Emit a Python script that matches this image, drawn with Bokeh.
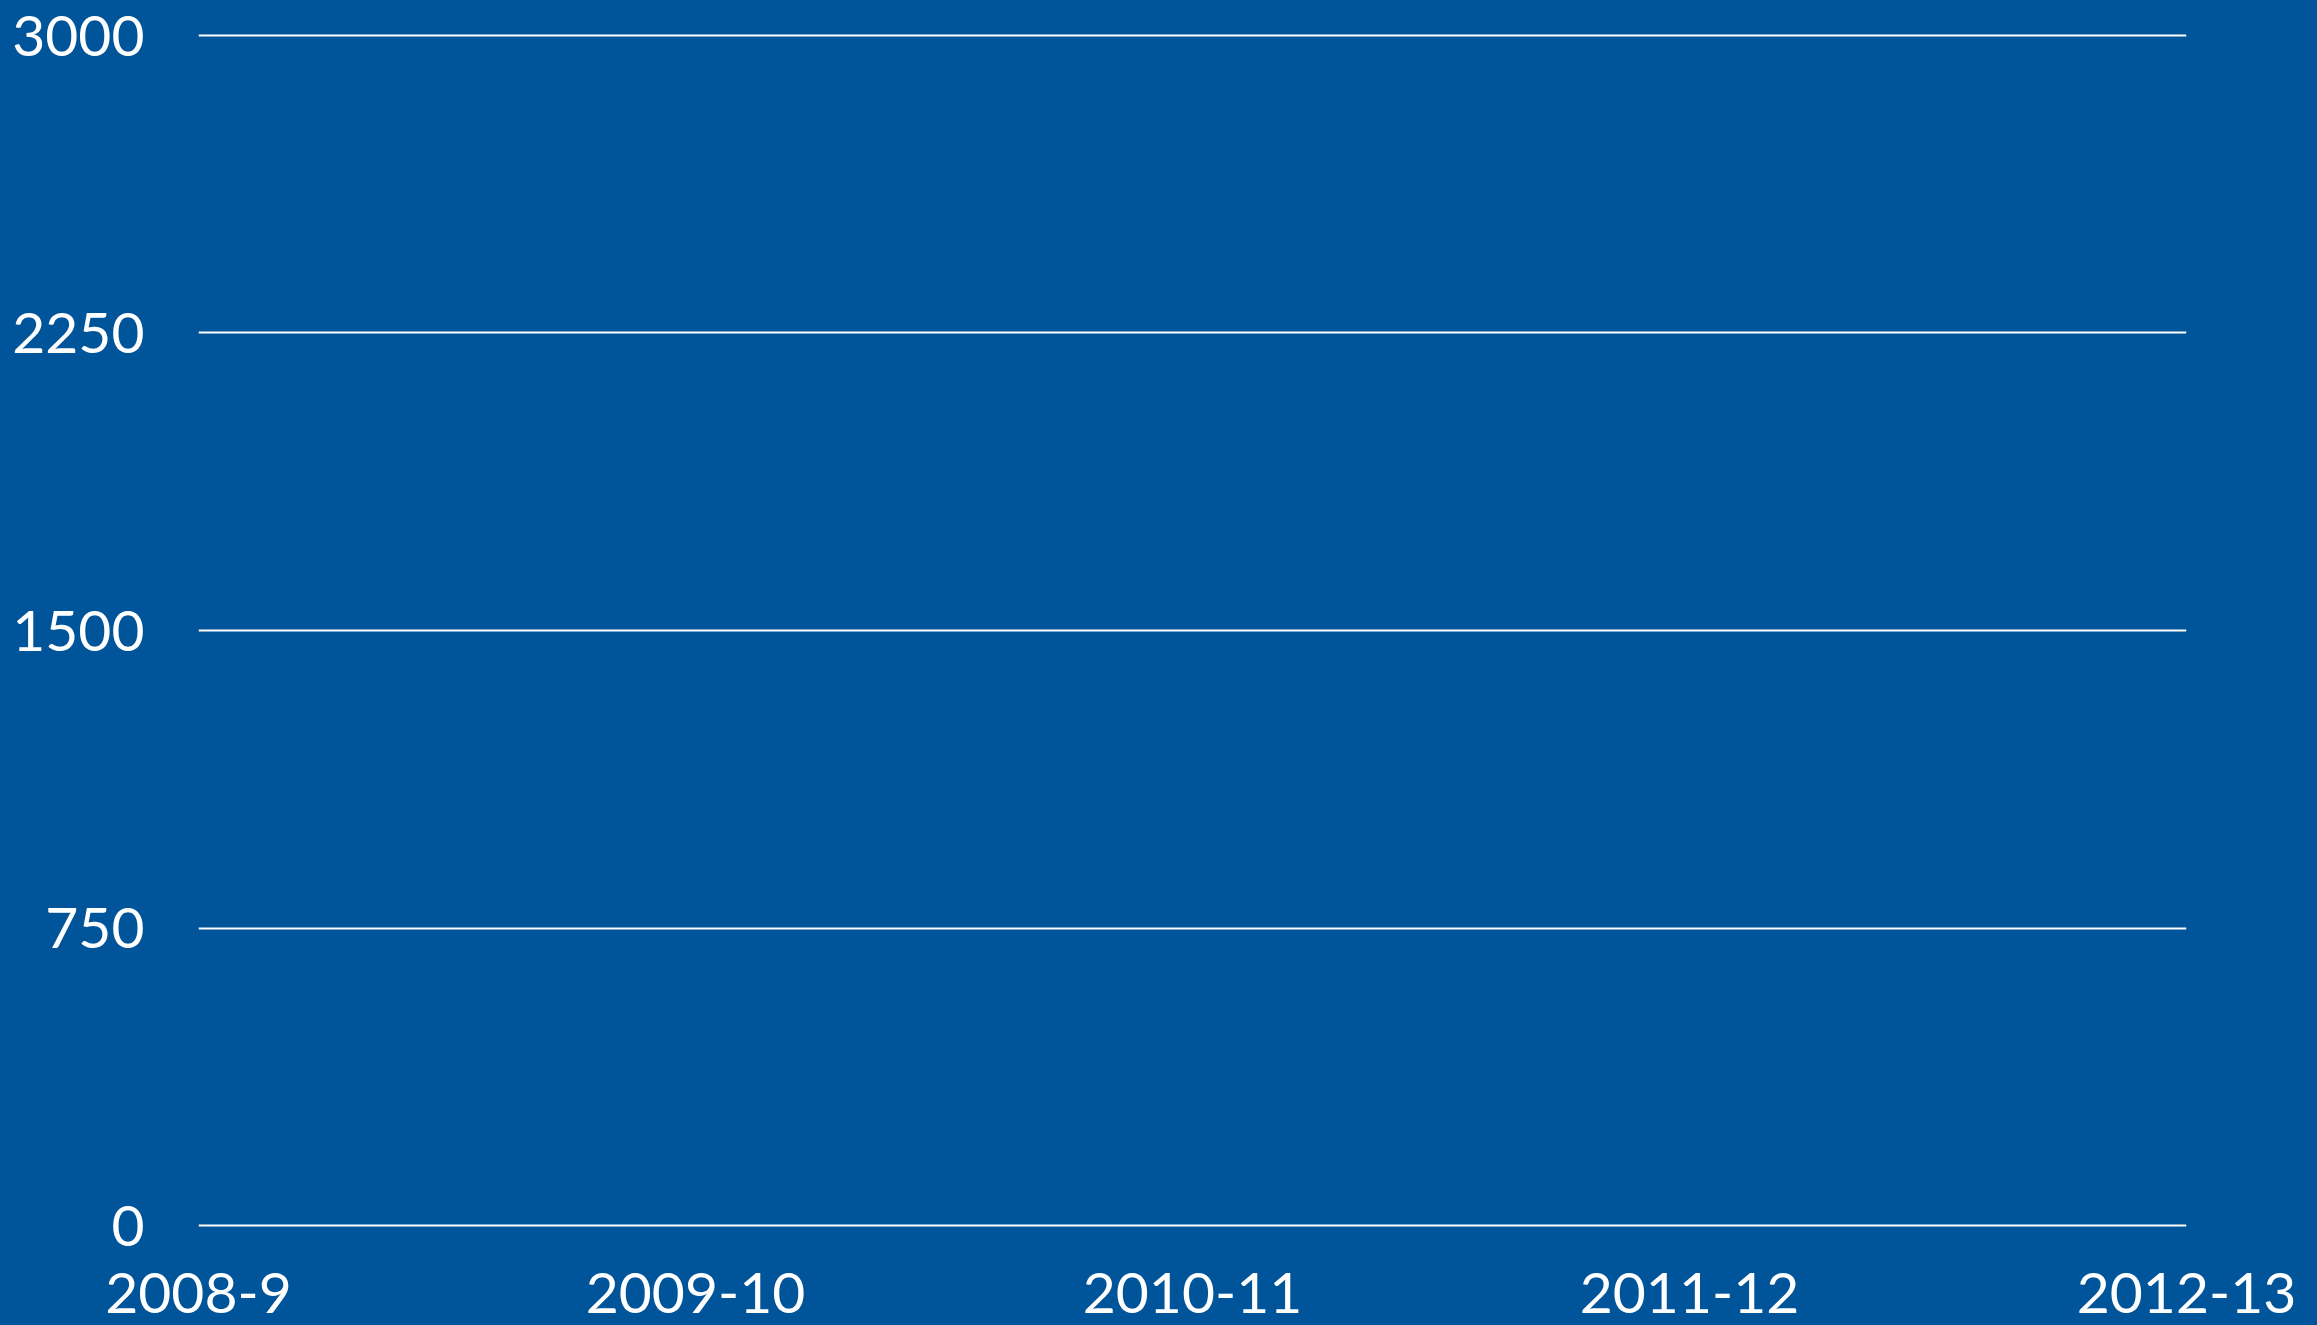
from bokeh.plotting import figure
from bokeh.models import Range1d, FixedTicker
from bokeh.embed import file_html
from bokeh.resources import INLINE

# Data
categories = ["2008-9", "2009-10", "2010-11", "2011-12", "2012-13"]
y_ticks = [0, 750, 1500, 2250, 3000]
values = []  # the reference chart shows no data series

BG = "#00549A"
FONT = "Lato"

p = figure(width=2317, height=1325, output_backend="svg", toolbar_location=None,
           x_range=Range1d(0, len(categories) - 1), y_range=Range1d(-25.2, 3025.2),
           min_border_left=198, min_border_right=131, min_border_top=25, min_border_bottom=90,
           background_fill_alpha=0, border_fill_color=BG, outline_line_color=None)

p.scatter(x=list(range(len(values))), y=values, size=0)

p.xaxis.ticker = FixedTicker(ticks=list(range(len(categories))))
p.xaxis.major_label_overrides = {i: c for i, c in enumerate(categories)}
p.yaxis.ticker = FixedTicker(ticks=y_ticks)

for ax in (p.xaxis, p.yaxis):
    ax.axis_line_color = None
    ax.major_tick_line_color = None
    ax.minor_tick_line_color = None
    ax.major_label_text_color = "white"
    ax.major_label_text_font = FONT
    ax.major_label_text_font_size = "57px"

p.xaxis.major_label_standoff = 31
p.yaxis.major_label_standoff = 48

p.xgrid.grid_line_color = None
p.ygrid.grid_line_color = "white"
p.ygrid.grid_line_width = 2

html = file_html(p, INLINE)
html = html.replace("</head>", "<style>html, body { background: %s; }</style>\n</head>" % BG, 1)
open("out.html", "w").write(html)
